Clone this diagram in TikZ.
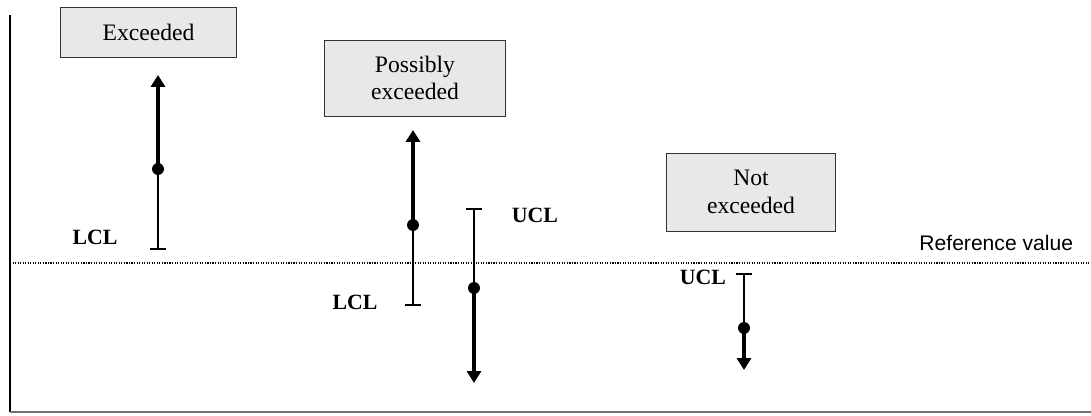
\documentclass[tikz,border=0pt]{standalone}
\usepackage{fontspec}
\setmainfont{Liberation Serif}
\newfontfamily\refsans{Liberation Sans}
\usetikzlibrary{arrows.meta}

\tikzset{
    statebox/.style={draw=black!80, fill=black!9, line width=0.7pt, align=center,
        font=\fontsize{16.8}{19.5}\selectfont},
    limitlabel/.style={font=\bfseries\fontsize{15.5}{18}\selectfont},
    estimate/.style={circle, fill=black, inner sep=0pt, minimum size=8.5pt},
    lowbar/.style={line width=1.3pt, -{Bar[width=12pt,line width=1.3pt]}},
    highbar/.style={line width=2.2pt, -{Triangle[width=10pt,length=8.5pt]}, shorten <=-2pt},
}

\begin{document}
\begin{tikzpicture}[x=0.025cm, y=-0.025cm]
    \useasboundingbox (0,0) rectangle (1091,415);

    % axes and reference line
    \draw[line width=1.4pt] (10,15) -- (10,412);
    \draw[black!55, line width=1.2pt] (10,412) -- (1091,412);
    \draw[densely dotted, line width=0.8pt] (10,263) -- (1091,263);
    \node[font=\refsans\fontsize{15}{18}\selectfont, anchor=east] (refval) at (1078,243) {Reference value};

    % interval bars: name / x / limit / estimate / arrow end
    \foreach \nm/\x/\lim/\est/\ar in {A/158/250/169/75, B/413/306/225/130, C/474/208/288/383, D/744/273/328/370} {
        \coordinate (lim\nm) at (\x,\lim);
        \coordinate (end\nm) at (\x,\ar);
        \node[estimate] (est\nm) at (\x,\est) {};
        \draw[lowbar] (est\nm.center) -- (lim\nm);
        \draw[highbar] (est\nm.center) -- (end\nm);
    }

    \node[limitlabel] (lclA) at (95,237) {LCL};
    \node[limitlabel] (lclB) at (355,302) {LCL};
    \node[limitlabel] (uclC) at (535,215) {UCL};
    \node[limitlabel] (uclD) at (703,277) {UCL};

    % outcome boxes
    \node[statebox, minimum width=4.375cm, minimum height=1.25cm] (exceeded) at (148.5,32) {Exceeded};
    \node[statebox, minimum width=4.5cm, minimum height=1.9cm] (possibly) at (415,78) {Possibly\\exceeded};
    \node[statebox, minimum width=4.2cm, minimum height=1.95cm] (notexc) at (751,192) {Not\\exceeded};
\end{tikzpicture}
\end{document}
